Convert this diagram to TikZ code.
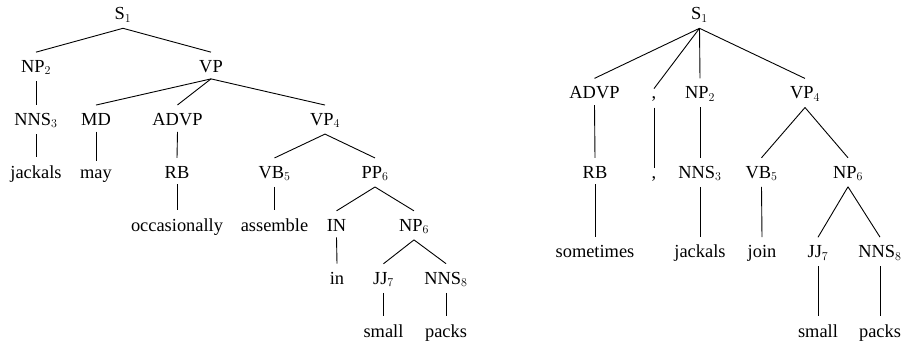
\documentclass[tikz,border=0pt]{standalone}
\usepackage{fontspec}
\setmainfont{Liberation Serif}
\DeclareMathSizes{18.4}{18.4}{12}{9}
\begin{document}
\begin{tikzpicture}[x=1pt,y=-1pt,
  tn/.style={anchor=base,inner sep=0pt,font=\fontsize{18.4}{22}\selectfont},
  br/.style={line width=0.9pt}]
\useasboundingbox (0,0) rectangle (903,346);
% ---------- left tree ----------
\def\La{19.5}\def\Lb{72.4}\def\Lc{125.3}\def\Ld{178.2}\def\Le{231.1}\def\Lf{284}\def\Lg{337}
\node[tn] (ls)     at (123,\La)   {S$_1$};
\node[tn] (lnp)    at (36,\Lb)    {NP$_2$};
\node[tn] (lvp)    at (211,\Lb)   {VP};
\node[tn] (lnns)   at (36,\Lc)    {NNS$_3$};
\node[tn] (lmd)    at (96,\Lc)    {MD};
\node[tn] (ladvp)  at (177.5,\Lc) {ADVP};
\node[tn] (lvpf)   at (325,\Lc)   {VP$_4$};
\node[tn] (ljack)  at (36,\Ld)    {jackals};
\node[tn] (lmay)   at (96,\Ld)    {may};
\node[tn] (lrb)    at (177,\Ld)   {RB};
\node[tn] (lvb)    at (274.5,\Ld) {VB$_5$};
\node[tn] (lpp)    at (375,\Ld)   {PP$_6$};
\node[tn] (locc)   at (177,\Le)   {occasionally};
\node[tn] (lass)   at (274.5,\Le) {assemble};
\node[tn] (lin)    at (336.5,\Le) {IN};
\node[tn] (lnps)   at (414,\Le)   {NP$_6$};
\node[tn] (linw)   at (337,\Lf)   {in};
\node[tn] (ljj)    at (383.5,\Lf) {JJ$_7$};
\node[tn] (lnnse)  at (446,\Lf)   {NNS$_8$};
\node[tn] (lsmall) at (383.5,\Lg) {small};
\node[tn] (lpacks) at (446,\Lg)   {packs};
% ---------- right tree ----------
\def\Ra{19.5}\def\Rb{98.7}\def\Rc{178}\def\Rd{257.5}\def\Re{337}
\node[tn] (rs)     at (699.5,\Ra) {S$_1$};
\node[tn] (radvp)  at (594.5,\Rb) {ADVP};
\node[tn] (rca)    at (654,\Rb)   {,};
\node[tn] (rnp)    at (700,\Rb)   {NP$_2$};
\node[tn] (rvpf)   at (805,\Rb)   {VP$_4$};
\node[tn] (rrb)    at (595,\Rc)   {RB};
\node[tn] (rcb)    at (654,\Rc)   {,};
\node[tn] (rnns)   at (700,\Rc)   {NNS$_3$};
\node[tn] (rvb)    at (761.5,\Rc) {VB$_5$};
\node[tn] (rnps)   at (848,\Rc)   {NP$_6$};
\node[tn] (rsome)  at (595,\Rd)   {sometimes};
\node[tn] (rjack)  at (700,\Rd)   {jackals};
\node[tn] (rjoin)  at (762,\Rd)   {join};
\node[tn] (rjj)    at (818,\Rd)   {JJ$_7$};
\node[tn] (rnnse)  at (880,\Rd)   {NNS$_8$};
\node[tn] (rsmall) at (818,\Re)   {small};
\node[tn] (rpacks) at (880,\Re)   {packs};
% ---------- edges ----------
\foreach \a/\b in {ls/lnp,ls/lvp,lnp/lnns,lnns/ljack,lvp/lmd,lvp/ladvp,lvp/lvpf,
  lmd/lmay,ladvp/lrb,lrb/locc,lvpf/lvb,lvpf/lpp,lvb/lass,lpp/lin,lpp/lnps,
  lin/linw,lnps/ljj,lnps/lnnse,ljj/lsmall,lnnse/lpacks,
  rs/radvp,rs/rca,rs/rnp,rs/rvpf,radvp/rrb,rca/rcb,rnp/rnns,rvpf/rvb,rvpf/rnps,
  rrb/rsome,rnns/rjack,rvb/rjoin,rnps/rjj,rnps/rnnse,rjj/rsmall,rnnse/rpacks}
  \draw[br] ([yshift=-6pt]\a.south) -- ([yshift=8pt]\b.north);
\end{tikzpicture}
\end{document}
